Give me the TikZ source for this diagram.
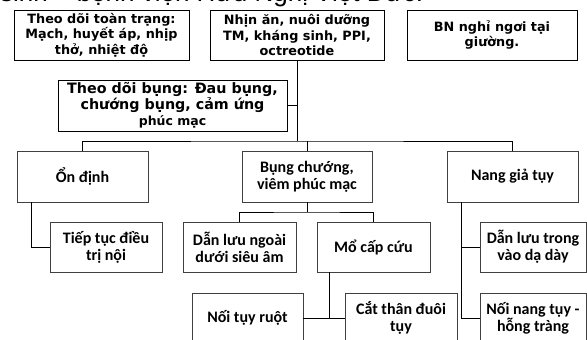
\documentclass[tikz,border=0pt]{standalone}
\usepackage{fontspec}
\newfontfamily\vfont{DejaVu Sans}
\newfontfamily\cfont{Carlito}
\newfontfamily\hfont{Liberation Sans}
\begin{document}
\begin{tikzpicture}[x=1pt,y=-1pt]
            \tikzstyle{plan} = [draw=black, line width=0.9pt, align=center, inner sep=2pt,
                    font=\vfont\bfseries\fontsize{12.8}{15.5}\selectfont]
            \tikzstyle{stage} = [draw=black!75, line width=0.9pt, align=center, inner sep=2pt,
                    minimum height=50, font=\cfont\bfseries\fontsize{16}{17}\selectfont]
            \tikzstyle{link} = [line width=0.9pt]

            \clip (0,0) rectangle (587,340);
            \node [anchor=base west, inner sep=0pt, font=\hfont\fontsize{26}{28}\selectfont] (title) at (0,1.5) {sinh – bệnh viện Hữu Nghị Việt Đức.};

            \node [plan, minimum width=175, minimum height=50] (monitor) at (101.5,35) {Theo dõi toàn trạng:\\Mạch, huyết áp, nhịp\\thở, nhiệt độ};
            \node [plan, minimum width=174, minimum height=50] (fasting) at (297,35) {Nhịn ăn, nuôi dưỡng\\TM, kháng sinh, PPI,\\octreotide};
            \node [plan, minimum width=170, minimum height=50] (rest) at (492,35) {BN nghỉ ngơi tại\\giường.};
            \node [plan, minimum width=229, minimum height=51, font=\vfont\bfseries\fontsize{14.3}{16}\selectfont] (belly) at (172.5,105.5) {Theo dõi bụng: Đau bụng,\\chướng bụng, cảm ứng\\{\fontsize{12.5}{14}\selectfont phúc mạc}};

            \node [stage, minimum width=131, minimum height=51] (stable) at (82.5,176.5) {Ổn định};
            \node [stage, minimum width=130, minimum height=51] (distended) at (307,176.5) {Bụng chướng,\\viêm phúc mạc};
            \node [stage, minimum width=131, minimum height=51] (pseudocyst) at (512.5,176.5) {Nang giả tụy};

            \node [stage, minimum width=112] (medical) at (106,247) {Tiếp tục điều\\trị nội};
            \node [stage, minimum width=113] (external) at (239.5,247) {Dẫn lưu ngoài\\dưới siêu âm};
            \node [stage, minimum width=113] (surgery) at (373.5,247) {Mổ cấp cứu};
            \node [stage, minimum width=106] (internal) at (533,247) {Dẫn lưu trong\\vào dạ dày};

            \node [stage, minimum width=111] (anastomosis) at (247.5,318) {Nối tụy ruột};
            \node [stage, minimum width=112] (resection) at (401,318) {Cắt thân đuôi\\tụy};
            \node [stage, minimum width=106] (jejunum) at (533,318) {Nối nang tụy -\\hỗng tràng};

            \coordinate (bus) at (297,141);
            \coordinate (split) at (307,212);
            \coordinate (stableline) at ([xshift=-51.5]stable.south);
            \coordinate (cystline) at ([xshift=-51.5]pseudocyst.south);
            \coordinate (cutline) at ([xshift=-44.5]surgery.south);

            \draw [link] (fasting) -- (bus);
            \draw [link] (belly.east) -- (belly.east -| bus);
            \draw [link] (stable.north) |- (bus) -| (pseudocyst.north);
            \draw [link] (bus -| distended.north) -- (distended.north);
            \draw [link] (stableline) |- (medical.west);
            \draw [link] (distended.south) -- (split);
            \draw [link] (external.north) |- (split) -| (surgery.north);
            \draw [link] (cystline) |- (jejunum.west);
            \draw [link] (cystline |- internal.west) -- (internal.west);
            \draw [link] (cutline) -- (cutline |- anastomosis.east);
            \draw [link] (anastomosis.east) -- (resection.west);
        \end{tikzpicture}
\end{document}
